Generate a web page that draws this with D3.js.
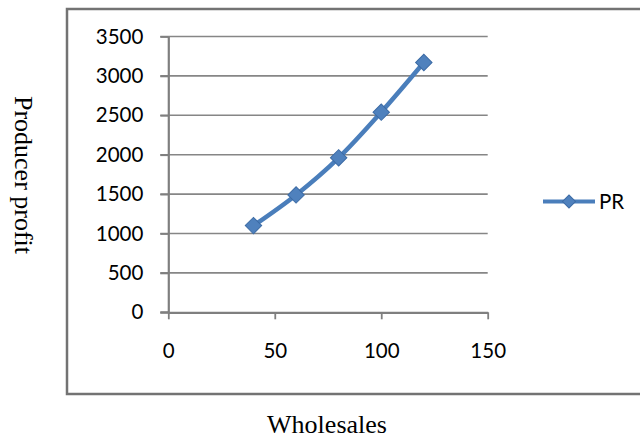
<!DOCTYPE html>
<html>
<head>
<meta charset="utf-8">
<script src="https://cdn.jsdelivr.net/npm/d3@7"></script>
<style>
  html, body { margin: 0; padding: 0; background: #fff; }
  svg { display: block; }
</style>
</head>
<body>
<svg id="chart" width="640" height="439"></svg>
<script>
// Wholesales vs producer profit (series PR)
const wholesales = [40, 60, 80, 100, 120];
const producerProfit = [1100, 1490, 1960, 2540, 3170];
const seriesName = "PR";
const xTicks = [0, 50, 100, 150];
const yTicks = [0, 500, 1000, 1500, 2000, 2500, 3000, 3500];

const svg = d3.select("#chart");
const tickFont = "Lato, 'Open Sans', sans-serif";
const titleFont = "'Liberation Serif', 'Times New Roman', serif";
const lineBlue = "#4a7ebb";
const axisGrey = "#7f7f7f";
const plain = d3.format("d");

// outer frame
svg.append("rect")
  .attr("x", 67).attr("y", 9)
  .attr("width", 620).attr("height", 385)
  .attr("fill", "none")
  .attr("stroke", "#737373")
  .attr("stroke-width", 2.5);

const x = d3.scaleLinear().domain([0, 150]).range([168.3, 487.7]);
const y = d3.scaleLinear().domain([0, 3500]).range([312.3, 36.5]);

// horizontal gridlines
svg.append("g")
  .selectAll("line")
  .data(yTicks.filter(d => d > 0))
  .join("line")
  .attr("x1", x(0) - 8).attr("x2", x(150))
  .attr("y1", d => y(d)).attr("y2", d => y(d))
  .attr("stroke", "#868686")
  .attr("stroke-width", 1.6);

// y axis
const yAxis = svg.append("g")
  .attr("transform", `translate(${x(0)},0)`)
  .call(d3.axisLeft(y).tickValues(yTicks).tickFormat(plain)
    .tickSize(8).tickPadding(17).tickSizeOuter(0));
yAxis.select(".domain").attr("stroke", axisGrey).attr("stroke-width", 2.2);
yAxis.selectAll(".tick line").attr("stroke", axisGrey).attr("stroke-width", 1.8);
yAxis.selectAll(".tick text")
  .attr("fill", "#000")
  .style("font-family", tickFont)
  .style("font-size", "20.5px");

// x axis
const xAxis = svg.append("g")
  .attr("transform", `translate(0,${y(0)})`)
  .call(d3.axisBottom(x).tickValues(xTicks).tickFormat(plain)
    .tickSize(7).tickPadding(24).tickSizeOuter(0));
xAxis.select(".domain").attr("stroke", axisGrey).attr("stroke-width", 2.2);
xAxis.selectAll(".tick line").attr("stroke", axisGrey).attr("stroke-width", 1.8);
xAxis.selectAll(".tick text")
  .attr("fill", "#000")
  .style("font-family", tickFont)
  .style("font-size", "20.5px");
// extend x axis line left to meet the y tick marks
svg.append("line")
  .attr("x1", x(0) - 8).attr("x2", x(0))
  .attr("y1", y(0)).attr("y2", y(0))
  .attr("stroke", axisGrey).attr("stroke-width", 2.2);

// smoothed series line
const pts = wholesales.map((w, i) => [w, producerProfit[i]]);
const line = d3.line()
  .x(d => x(d[0]))
  .y(d => y(d[1]))
  .curve(d3.curveCatmullRom.alpha(0.5));

svg.append("path")
  .datum(pts)
  .attr("d", line)
  .attr("fill", "none")
  .attr("stroke", lineBlue)
  .attr("stroke-width", 4.5)
  .attr("stroke-linecap", "round");

// diamond markers
const diamond = d3.symbol().type(d3.symbolSquare).size(135);
svg.append("g")
  .selectAll("path")
  .data(pts)
  .join("path")
  .attr("d", diamond)
  .attr("transform", d => `translate(${x(d[0])},${y(d[1])}) rotate(45)`)
  .attr("fill", "#4f81bd")
  .attr("stroke", "#3c6ba5")
  .attr("stroke-width", 1);

// legend
const lg = svg.append("g");
lg.append("line")
  .attr("x1", 543).attr("x2", 595)
  .attr("y1", 201.5).attr("y2", 201.5)
  .attr("stroke", lineBlue).attr("stroke-width", 4);
lg.append("path")
  .attr("d", d3.symbol().type(d3.symbolSquare).size(85)())
  .attr("transform", "translate(569,201.5) rotate(45)")
  .attr("fill", "#4f81bd")
  .attr("stroke", "#3c6ba5")
  .attr("stroke-width", 1);
lg.append("text")
  .attr("x", 599).attr("y", 201.5)
  .attr("dy", "0.36em")
  .style("font-family", tickFont)
  .style("font-size", "20.5px")
  .attr("fill", "#000")
  .text(seriesName);

// axis titles
svg.append("text")
  .attr("x", 327).attr("y", 433)
  .attr("text-anchor", "middle")
  .style("font-family", titleFont)
  .style("font-size", "26px")
  .attr("fill", "#000")
  .text("Wholesales");

svg.append("text")
  .attr("transform", "translate(15,175) rotate(90)")
  .attr("text-anchor", "middle")
  .style("font-family", titleFont)
  .style("font-size", "26px")
  .attr("fill", "#000")
  .text("Producer profit");
</script>
</body>
</html>
